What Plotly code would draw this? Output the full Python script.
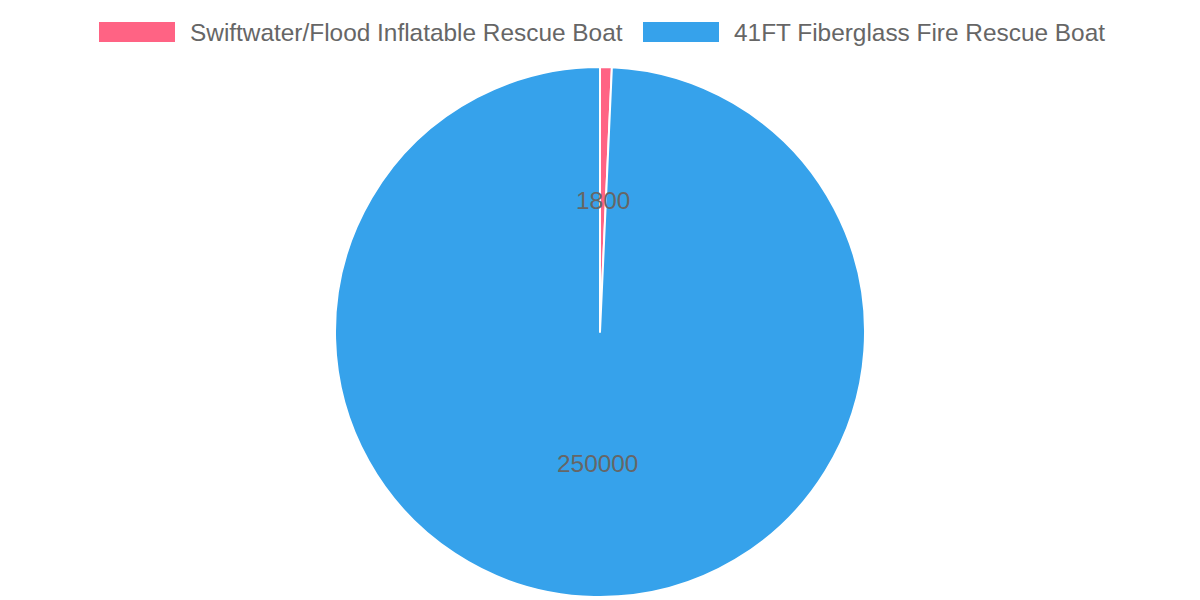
import math
import plotly.graph_objects as go

labels = ["Swiftwater/Flood Inflatable Rescue Boat", "41FT Fiberglass Fire Rescue Boat"]
values = [1800, 250000]
colors = ["#ff6384", "#36a2eb"]

W, H = 1200, 600
dom_y = [3 / H, 533 / H]
dom_x = [0.0, 1.0]
FONT = "Liberation Sans, Arial, Helvetica, sans-serif"
FS = 24.4

fig = go.Figure(go.Pie(
    labels=labels,
    values=values,
    sort=False,
    direction="clockwise",
    rotation=0,
    marker=dict(colors=colors, line=dict(color="#ffffff", width=2)),
    textinfo="none",
    hoverinfo="label+value",
    showlegend=False,
    domain=dict(x=dom_x, y=dom_y),
))

# value labels at half radius, mid-angle of each slice
cx = (dom_x[0] + dom_x[1]) / 2
cy = (dom_y[0] + dom_y[1]) / 2
r_px = (dom_y[1] - dom_y[0]) * H / 2 - 1
total = sum(values)
cum = 0
annotations = []
for v in values:
    mid = (cum + v / 2) / total * 2 * math.pi
    cum += v
    dx = math.sin(mid) * r_px / 2
    dy = math.cos(mid) * r_px / 2
    annotations.append(dict(
        x=cx + dx / W, y=cy + dy / H, xref="paper", yref="paper",
        text=str(v), showarrow=False,
        font=dict(family=FONT, size=FS, color="#666666"),
        xanchor="center", yanchor="middle",
    ))

# custom legend (wide boxes like the reference)
shapes = []
box_w, box_h, gap, item_gap = 76, 20, 12.5, 23.5
legend_y_top = 22
text_widths = [432, 370]  # approximate rendered label widths (layout only)
x0 = 99
for lab, col, tw in zip(labels, colors, text_widths):
    shapes.append(dict(
        type="rect", xref="paper", yref="paper",
        x0=x0 / W, x1=(x0 + box_w) / W,
        y0=1 - (legend_y_top + box_h) / H, y1=1 - legend_y_top / H,
        fillcolor=col, line=dict(width=0),
    ))
    annotations.append(dict(
        x=(x0 + box_w + gap) / W, y=1 - (legend_y_top + box_h / 2) / H,
        xref="paper", yref="paper", text=lab, showarrow=False,
        xanchor="left", yanchor="middle",
        font=dict(family=FONT, size=FS, color="#666666"),
    ))
    x0 += box_w + gap + tw + item_gap

fig.update_layout(
    width=W, height=H,
    margin=dict(l=0, r=0, t=0, b=0),
    paper_bgcolor="#ffffff",
    plot_bgcolor="#ffffff",
    annotations=annotations,
    shapes=shapes,
)

fig.write_html("out.html", config={"displayModeBar": False},
               post_script="document.body.style.margin='0';")
